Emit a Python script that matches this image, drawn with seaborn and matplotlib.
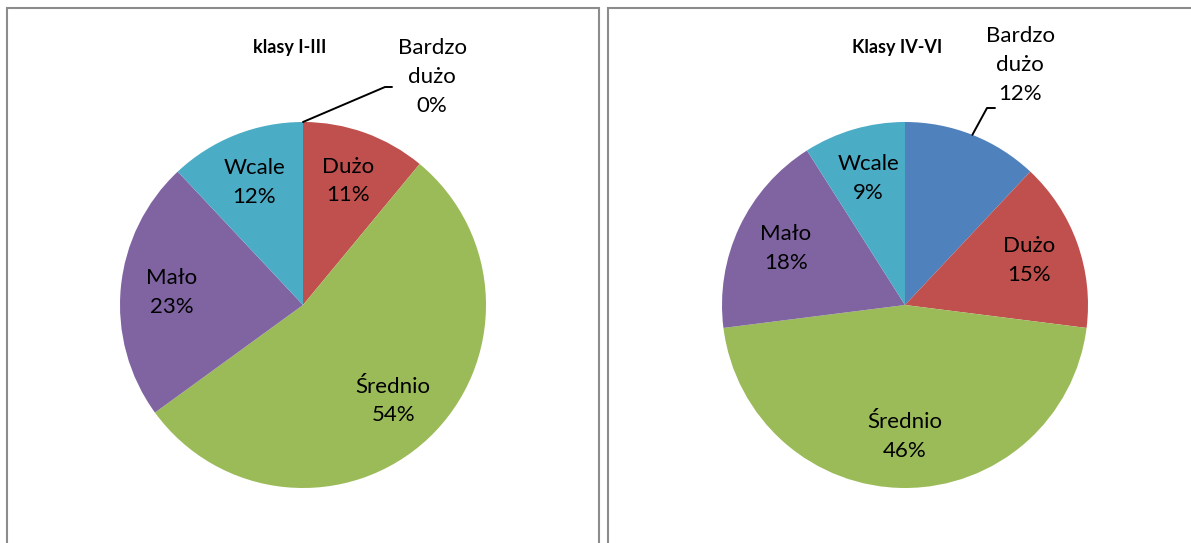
import matplotlib.pyplot as plt
import seaborn as sns
from matplotlib.patches import Rectangle
import numpy as np

sns.set_theme(style="white")
plt.rcParams['font.family'] = ['Lato', 'DejaVu Sans']

categories = ["Bardzo\ndużo", "Dużo", "Średnio", "Mało", "Wcale"]
values_1_3 = [0, 11, 54, 23, 12]
values_4_6 = [12, 15, 46, 18, 9]
titles = ["klasy I-III", "Klasy IV-VI"]
colors = ["#4F81BD", "#C0504D", "#9BBB59", "#8064A2", "#4BACC6"]

fig = plt.figure(figsize=(11.91, 5.43), dpi=100)
W, H = 1191, 543

# panel frames
fig.patches.append(Rectangle((7 / W, -0.1), 592 / W, 1.1 - 8 / H, transform=fig.transFigure,
                             fill=False, edgecolor="#8c8c8c", lw=1.5))
fig.patches.append(Rectangle((608 / W, -0.1), 600 / W, 1.1 - 8 / H, transform=fig.transFigure,
                             fill=False, edgecolor="#8c8c8c", lw=1.5))

r = 183
centers = [(303, 305), (905, 305)]
outside = [((432, 77), (385, 87), (392, 87)), ((1020, 65), (987, 108), (995, 108))]
title_pos = [(290, 47), (897, 47)]

for i, vals in enumerate([values_1_3, values_4_6]):
    cx, cy = centers[i]
    ax = fig.add_axes([(cx - r) / W, (H - cy - r) / H, 2 * r / W, 2 * r / H])
    wedges, _ = ax.pie(vals, colors=colors, startangle=90, counterclock=False,
                       radius=1, wedgeprops=dict(linewidth=0))
    ax.set_xlim(-1, 1)
    ax.set_ylim(-1, 1)
    ax.set_aspect("equal")
    for j, w in enumerate(wedges):
        txt = f"{categories[j]}\n{vals[j]}%"
        if j == 0:
            (tx, ty), (lx, ly), (hx, hy) = outside[i]
            ang = np.deg2rad((w.theta1 + w.theta2) / 2)
            px, py = np.cos(ang), np.sin(ang)
            fx = lambda x: (x - cx) / r
            fy = lambda y: (cy - y) / r
            ax.plot([px, fx(lx), fx(hx)], [py, fy(ly), fy(hy)], color="black", lw=1.4,
                    clip_on=False)
            ax.text(fx(tx), fy(ty), txt, ha="center", va="center", fontsize=16,
                    linespacing=1.55, color="black")
            continue
        ang = np.deg2rad((w.theta1 + w.theta2) / 2)
        d = 0.72
        ax.text(d * np.cos(ang), d * np.sin(ang), txt, ha="center", va="center",
                fontsize=16, linespacing=1.55, color="black")
    fig.text(title_pos[i][0] / W, 1 - title_pos[i][1] / H, titles[i], ha="center",
             va="center", fontsize=13, fontweight="bold", color="black")

fig.savefig("out.png", dpi=100)
